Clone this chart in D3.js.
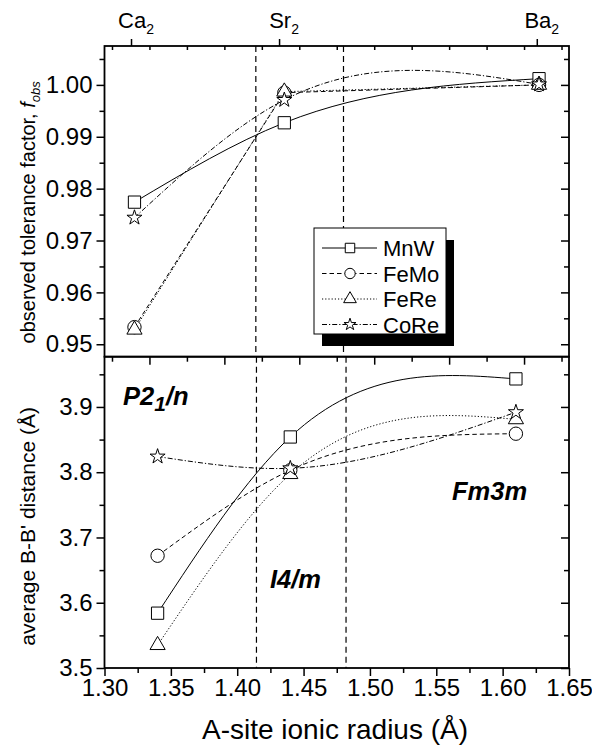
<!DOCTYPE html>
<html>
<head>
<meta charset="utf-8">
<script src="https://cdn.jsdelivr.net/npm/d3@7"></script>
<style>
  html, body { margin: 0; padding: 0; background: #fff; }
  svg { display: block; font-family: "Liberation Sans", Arial, sans-serif; }
</style>
</head>
<body>
<svg id="chart" width="592" height="751"></svg>
<script>
// A-site ionic radius for the Ca2, Sr2 and Ba2 members of each double perovskite family
const radii = [1.34, 1.44, 1.61];
const series = ["MnW", "FeMo", "FeRe", "CoRe"];

// observed tolerance factor f_obs
const tolMnW  = [0.9774, 0.9927, 1.0012];
const tolFeMo = [0.9533, 0.9985, 1.0000];
const tolFeRe = [0.9528, 0.9987, 1.0000];
const tolCoRe = [0.9744, 0.9971, 1.0001];

// average B-B' distance (Å)
const distMnW  = [3.584, 3.854, 3.943];
const distFeMo = [3.672, 3.803, 3.859];
const distFeRe = [3.535, 3.797, 3.881];
const distCoRe = [3.824, 3.806, 3.892];

// top axis labels for the A-site cation
const siteLabels = ["Ca", "Sr", "Ba"];
const siteTicks = [1.3377, 1.4365, 1.6085];

// phase boundaries
const boundsTop = [1.421, 1.4795];
const boundsBot = [1.4145, 1.482];

const xTicksBot = [1.30, 1.35, 1.40, 1.45, 1.50, 1.55, 1.60, 1.65];
const yTicksTop = [0.95, 0.96, 0.97, 0.98, 0.99, 1.00];
const yTicksBot = [3.5, 3.6, 3.7, 3.8, 3.9];

const svg = d3.select("#chart");

const L = 104.5, R = 569, T = 46, MID = 356.7, B = 668;

const xTop = d3.scaleLinear().domain([1.32, 1.63]).range([L, R]);
const yTop = d3.scaleLinear().domain([0.9476, 1.0075]).range([MID, T]);
const xBot = d3.scaleLinear().domain([1.30, 1.65]).range([L, R]);
const yBot = d3.scaleLinear().domain([3.5, 3.977]).range([B, MID]);

// natural cubic spline with y as a function of x
function curveSplineX(context) {
  let xs = [], ys = [];
  return {
    areaStart() {}, areaEnd() {},
    lineStart() { xs = []; ys = []; },
    point(x, y) { xs.push(+x); ys.push(+y); },
    lineEnd() {
      const n = xs.length;
      if (!n) return;
      context.moveTo(xs[0], ys[0]);
      if (n === 1) return;
      if (n === 2) { context.lineTo(xs[1], ys[1]); return; }
      const h = [], d = [];
      for (let i = 0; i < n - 1; i++) { h[i] = xs[i + 1] - xs[i]; d[i] = (ys[i + 1] - ys[i]) / h[i]; }
      const M = new Array(n).fill(0);
      const a = [], b = [], c = [], r = [];
      for (let i = 1; i < n - 1; i++) {
        a[i] = h[i - 1]; b[i] = 2 * (h[i - 1] + h[i]); c[i] = h[i]; r[i] = 6 * (d[i] - d[i - 1]);
      }
      for (let i = 2; i < n - 1; i++) { const m = a[i] / b[i - 1]; b[i] -= m * c[i - 1]; r[i] -= m * r[i - 1]; }
      for (let i = n - 2; i >= 1; i--) { M[i] = (r[i] - (i < n - 2 ? c[i] * M[i + 1] : 0)) / b[i]; }
      for (let i = 0; i < n - 1; i++) {
        const s0 = d[i] - h[i] * (2 * M[i] + M[i + 1]) / 6;
        const s1 = d[i] + h[i] * (M[i] + 2 * M[i + 1]) / 6;
        context.bezierCurveTo(xs[i] + h[i] / 3, ys[i] + s0 * h[i] / 3,
                              xs[i + 1] - h[i] / 3, ys[i + 1] - s1 * h[i] / 3,
                              xs[i + 1], ys[i + 1]);
      }
    }
  };
}

const dash = { MnW: null, FeMo: "4.5,3", FeRe: "1.2,2", CoRe: "5,2,1.2,2" };
const symbols = {
  MnW:  d3.symbol(d3.symbolSquare, 150),
  FeMo: d3.symbol(d3.symbolCircle, 140),
  FeRe: d3.symbol(d3.symbolTriangle, 100),
  CoRe: d3.symbol(d3.symbolStar, 70)
};

function panel(xs, ys, data, curves) {
  const g = svg.append("g");
  series.forEach((s, k) => {
    const pts = radii.map((r, i) => [r, data[k][i]]);
    const line = d3.line().x(p => xs(p[0])).y(p => ys(p[1])).curve(curves[k]);
    g.append("path").attr("d", line(pts)).attr("fill", "none")
      .attr("stroke", "#000").attr("stroke-width", 1)
      .attr("stroke-dasharray", dash[s]);
  });
  series.forEach((s, k) => {
    radii.forEach((r, i) => {
      g.append("path").attr("d", symbols[s]())
        .attr("transform", `translate(${xs(r)},${ys(data[k][i])})`)
        .attr("fill", "#fff").attr("stroke", "#000").attr("stroke-width", 1);
    });
  });
}

// phase boundary lines
boundsTop.forEach(v => svg.append("line").attr("x1", xTop(v)).attr("x2", xTop(v))
  .attr("y1", T).attr("y2", MID).attr("stroke", "#000").attr("stroke-width", 1.2)
  .attr("stroke-dasharray", "6,4"));
boundsBot.forEach(v => svg.append("line").attr("x1", xBot(v)).attr("x2", xBot(v))
  .attr("y1", MID).attr("y2", B).attr("stroke", "#000").attr("stroke-width", 1.2)
  .attr("stroke-dasharray", "6,4"));

panel(xTop, yTop, [tolMnW, tolFeMo, tolFeRe, tolCoRe],
  [curveSplineX, d3.curveLinear, d3.curveLinear, curveSplineX]);
panel(xBot, yBot, [distMnW, distFeMo, distFeRe, distCoRe],
  [curveSplineX, curveSplineX, curveSplineX, curveSplineX]);

// axes
function styleAxis(g) {
  g.select(".domain").remove();
  g.selectAll(".tick line").attr("stroke", "#000").attr("stroke-width", 1.5);
  g.selectAll(".tick text").attr("fill", "#000").style("font-size", "24px")
    .style("font-family", "'Liberation Sans', Arial, sans-serif");
}
const range = (a, b, s) => d3.range(Math.round((b - a) / s) + 1).map(i => +(a + i * s).toFixed(4));

// top panel: left (outward), right (inward)
svg.append("g").attr("transform", `translate(${L},0)`)
  .call(d3.axisLeft(yTop).tickValues(yTicksTop).tickSize(8).tickPadding(4).tickFormat(d3.format(".2f")))
  .call(styleAxis);
svg.append("g").attr("transform", `translate(${L},0)`)
  .call(d3.axisLeft(yTop).tickValues(range(0.955, 1.005, 0.01)).tickSize(5).tickFormat(""))
  .call(styleAxis);
svg.append("g").attr("transform", `translate(${R},0)`)
  .call(d3.axisLeft(yTop).tickValues(yTicksTop).tickSize(8).tickFormat(""))
  .call(styleAxis);
svg.append("g").attr("transform", `translate(${R},0)`)
  .call(d3.axisLeft(yTop).tickValues(range(0.955, 1.005, 0.01)).tickSize(5).tickFormat(""))
  .call(styleAxis);
// top panel: bottom edge ticks (outward)
svg.append("g").attr("transform", `translate(0,${MID})`)
  .call(d3.axisBottom(xTop).tickValues(range(1.35, 1.60, 0.05)).tickSize(8).tickFormat(""))
  .call(styleAxis);
svg.append("g").attr("transform", `translate(0,${MID})`)
  .call(d3.axisBottom(xTop).tickValues(range(1.325, 1.625, 0.05)).tickSize(5).tickFormat(""))
  .call(styleAxis);
// top edge: inward minor ticks and outward cation ticks
svg.append("g").attr("transform", `translate(0,${T})`)
  .call(d3.axisBottom(xTop).tickValues(range(1.325, 1.625, 0.025)).tickSize(4).tickFormat(""))
  .call(styleAxis);
svg.append("g").attr("transform", `translate(0,${T})`)
  .call(d3.axisTop(xTop).tickValues(siteTicks).tickSize(7).tickFormat(""))
  .call(styleAxis);
siteTicks.forEach((v, i) => {
  const t = svg.append("text").attr("x", xTop(v) + 5).attr("y", 28)
    .attr("text-anchor", "middle").style("font-size", "22px");
  t.append("tspan").text(siteLabels[i]);
  t.append("tspan").attr("dy", 6).style("font-size", "14px").text("2");
});

// bottom panel axes
svg.append("g").attr("transform", `translate(${L},0)`)
  .call(d3.axisLeft(yBot).tickValues(yTicksBot).tickSize(8).tickPadding(4).tickFormat(d3.format(".1f")))
  .call(styleAxis);
svg.append("g").attr("transform", `translate(${L},0)`)
  .call(d3.axisLeft(yBot).tickValues(range(3.55, 3.95, 0.1)).tickSize(5).tickFormat(""))
  .call(styleAxis);
svg.append("g").attr("transform", `translate(${R},0)`)
  .call(d3.axisLeft(yBot).tickValues(yTicksBot).tickSize(8).tickFormat(""))
  .call(styleAxis);
svg.append("g").attr("transform", `translate(${R},0)`)
  .call(d3.axisLeft(yBot).tickValues(range(3.55, 3.95, 0.1)).tickSize(5).tickFormat(""))
  .call(styleAxis);
svg.append("g").attr("transform", `translate(0,${B})`)
  .call(d3.axisBottom(xBot).tickValues(xTicksBot).tickSize(8).tickPadding(3).tickFormat(d3.format(".2f")))
  .call(styleAxis);
svg.append("g").attr("transform", `translate(0,${B})`)
  .call(d3.axisBottom(xBot).tickValues(range(1.325, 1.625, 0.05)).tickSize(5).tickFormat(""))
  .call(styleAxis);

// frames
[[T, MID], [MID, B]].forEach(([y0, y1]) => {
  svg.append("rect").attr("x", L).attr("y", y0).attr("width", R - L).attr("height", y1 - y0)
    .attr("fill", "none").attr("stroke", "#000").attr("stroke-width", 1.8);
});

// axis titles
const tt = svg.append("text").attr("transform", `translate(35,${(T + MID) / 2 + 11}) rotate(-90)`)
  .attr("text-anchor", "middle").style("font-size", "20px");
tt.append("tspan").text("observed tolerance factor, ");
tt.append("tspan").style("font-style", "italic").text("f");
tt.append("tspan").attr("dy", 5).style("font-style", "italic").style("font-size", "13px").text("obs");

svg.append("text").attr("transform", `translate(35,${(MID + B) / 2 + 14}) rotate(-90)`)
  .attr("text-anchor", "middle").style("font-size", "21px").text("average B-B' distance (Å)");

svg.append("text").attr("x", 335).attr("y", 739).attr("text-anchor", "middle")
  .style("font-size", "28px").text("A-site ionic radius (Å)");

// phase labels
function phase(x, y, parts) {
  const t = svg.append("text").attr("x", x).attr("y", y)
    .style("font-size", "25.5px").style("font-weight", "bold").style("font-style", "italic");
  parts.forEach(([s, sub]) => {
    const sp = t.append("tspan").text(s);
    if (sub) sp.attr("dy", 6).style("font-size", "21px");
    else if (t.selectAll("tspan").size() > 1) sp.attr("dy", -6);
  });
}
phase(123, 405, [["P2"], ["1", true], ["/n"]]);
phase(270, 588, [["I4/m"]]);
phase(452, 500, [["Fm3m"]]);

// legend
const lg = svg.append("g");
const lx = 314, ly = 228, lw = 132, lh = 106;
lg.append("rect").attr("x", lx + 8).attr("y", ly + 12).attr("width", lw).attr("height", lh).attr("fill", "#000");
lg.append("rect").attr("x", lx).attr("y", ly).attr("width", lw).attr("height", lh)
  .attr("fill", "#fff").attr("stroke", "#000").attr("stroke-width", 1);
series.forEach((s, i) => {
  const y = ly + 20 + i * 25.5;
  lg.append("line").attr("x1", lx + 8).attr("x2", lx + 63).attr("y1", y).attr("y2", y)
    .attr("stroke", "#000").attr("stroke-width", 1).attr("stroke-dasharray", dash[s]);
  const sym = s === "MnW" ? d3.symbol(d3.symbolSquare, 90) : s === "FeMo" ? d3.symbol(d3.symbolCircle, 85)
    : s === "FeRe" ? d3.symbol(d3.symbolTriangle, 70) : d3.symbol(d3.symbolStar, 45);
  lg.append("path").attr("d", sym()).attr("transform", `translate(${lx + 36},${y})`)
    .attr("fill", "#fff").attr("stroke", "#000").attr("stroke-width", 1);
  lg.append("text").attr("x", lx + 69).attr("y", y + 8).style("font-size", "22px").text(s);
});
</script>
</body>
</html>
